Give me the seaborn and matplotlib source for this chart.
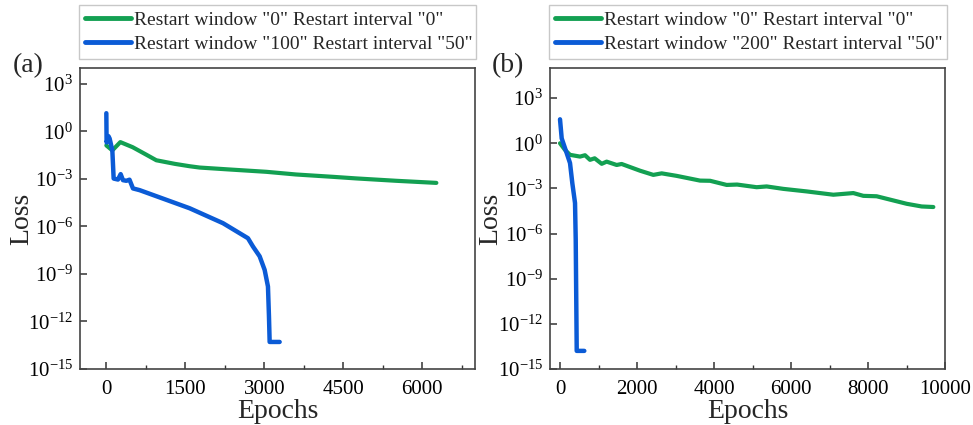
import matplotlib
matplotlib.use("Agg")
import matplotlib.pyplot as plt
import seaborn as sns
import pandas as pd
from matplotlib.ticker import FixedLocator, LogFormatterMathtext, MultipleLocator, NullLocator

# ---------------- data ----------------
a_green_epochs = [0, 114, 266, 500, 750, 949, 1300, 1582, 1772, 2300, 3038, 3600, 4302, 4747, 5500, 6266]
a_green_loss = [1.3e-1, 6.3e-2, 2.1e-1, 1.0e-1, 3.5e-2, 1.5e-2, 8.9e-3, 6.3e-3, 5.2e-3, 4.0e-3,
                2.8e-3, 1.9e-3, 1.35e-3, 1.07e-3, 7.6e-4, 5.6e-4]

a_blue_epochs = [0, 5, 40, 63, 114, 139, 221, 272, 316, 380, 440, 506, 632, 949, 1582, 2215,
                 2689, 2784, 2911, 3006, 3069, 3088, 3101, 3291]
a_blue_loss = [1.4e1, 2.0e-1, 5.0e-1, 3.5e-1, 6.3e-2, 1.05e-3, 9.1e-4, 2.0e-3, 8.3e-4, 7.6e-4,
               8.9e-4, 2.5e-4, 1.95e-4, 8.1e-5, 1.4e-5, 1.6e-6, 1.8e-7, 5.4e-8, 1.3e-8,
               1.8e-9, 1.6e-10, 2.1e-12, 5.1e-14, 5.1e-14]

b_green_epochs = [0, 130, 260, 520, 650, 779, 900, 1083, 1212, 1472, 1600, 2078, 2424, 2641, 3030,
                  3636, 3900, 4329, 4600, 5108, 5368, 5801, 6407, 7100, 7619, 7879, 8225, 8571,
                  9004, 9394, 9697]
b_green_loss = [1.0, 3.6e-1, 1.7e-1, 1.3e-1, 1.6e-1, 7.9e-2, 1.0e-1, 4.3e-2, 6.0e-2, 3.6e-2,
                4.2e-2, 1.5e-2, 7.9e-3, 1.0e-2, 6.8e-3, 3.3e-3, 3.2e-3, 1.7e-3, 1.8e-3, 1.2e-3,
                1.35e-3, 9.3e-4, 6.3e-4, 3.8e-4, 4.9e-4, 3.2e-4, 3.0e-4, 1.8e-4, 9.5e-5,
                6.3e-5, 5.8e-5]

b_blue_epochs = [0, 44, 174, 260, 320, 390, 408, 434, 631]
b_blue_loss = [3.9e1, 2.1, 2.2e-1, 4.8e-2, 2.2e-3, 1.07e-4, 4.0e-7, 1.6e-14, 1.6e-14]

labels_a = ['Restart window "0" Restart interval "0"', 'Restart window "100" Restart interval "50"']
labels_b = ['Restart window "0" Restart interval "0"', 'Restart window "200" Restart interval "50"']
yticks = [1e3, 1e0, 1e-3, 1e-6, 1e-9, 1e-12, 1e-15]

GREEN = "#13a052"
BLUE = "#0b5bd6"

# ---------------- style ----------------
sns.set_theme(style="ticks")
plt.rcParams["font.family"] = ["Liberation Serif", "DejaVu Serif"]
plt.rcParams["mathtext.fontset"] = "custom"
plt.rcParams["mathtext.rm"] = "Liberation Serif"
plt.rcParams["mathtext.it"] = "Liberation Serif:italic"
plt.rcParams["mathtext.bf"] = "Liberation Serif:bold"

fig = plt.figure(figsize=(9.73, 4.25), dpi=100)
W, H = 973, 425
ax_a = fig.add_axes([80 / W, 1 - 369 / H, 395 / W, 301 / H])
ax_b = fig.add_axes([550 / W, 1 - 369 / H, 395 / W, 301 / H])

panels = [
    (ax_a, a_green_epochs, a_green_loss, a_blue_epochs, a_blue_loss, labels_a,
     (-500, 7000), (1e-15, 1e4), 1500, 750, "(a)", 13, (79, 476), 34),
    (ax_b, b_green_epochs, b_green_loss, b_blue_epochs, b_blue_loss, labels_b,
     (-260, 10000), (1e-15, 1e5), 2000, 1000, "(b)", 492, (549, 947), 503),
]

for (ax, gx, gy, bx, by, labs, xlim, ylim, major, minor, tag, tagx, legx, ylabx) in panels:
    dg = pd.DataFrame({"Epochs": gx, "Loss": gy})
    db = pd.DataFrame({"Epochs": bx, "Loss": by})
    sns.lineplot(data=dg, x="Epochs", y="Loss", ax=ax, color=GREEN, lw=3.0,
                 estimator=None, sort=False, label=labs[0], solid_capstyle="round")
    sns.lineplot(data=db, x="Epochs", y="Loss", ax=ax, color=BLUE, lw=3.2,
                 estimator=None, sort=False, label=labs[1], solid_capstyle="round")
    ax.set_yscale("log")
    ax.set_xlim(*xlim)
    ax.set_ylim(*ylim)
    ax.yaxis.set_major_locator(FixedLocator(yticks))
    ax.yaxis.set_major_formatter(LogFormatterMathtext())
    ax.yaxis.set_minor_locator(NullLocator())
    ax.xaxis.set_major_locator(MultipleLocator(major))
    ax.xaxis.set_minor_locator(MultipleLocator(minor))
    ax.tick_params(axis="both", which="major", direction="in", length=5, width=1.1,
                   labelsize=15, color="#333333", labelcolor="black", pad=5)
    ax.tick_params(axis="x", which="major", pad=8)
    ax.tick_params(axis="x", which="minor", direction="in", length=3, width=1.0, color="#333333")
    ax.tick_params(top=False, right=False)
    for s in ax.spines.values():
        s.set_visible(True)
        s.set_color("#444444")
        s.set_linewidth(1.2)
    ax.set_xlabel("Epochs", fontsize=20, labelpad=0)
    ax.set_ylabel("Loss", fontsize=20)
    ax.yaxis.set_label_coords(ylabx / W, 0.5 * (1 - 369 / H + 1 - 68 / H) + 0.0,
                              transform=fig.transFigure)
    x0 = legx[0] / W
    wl = (legx[1] - legx[0]) / W
    leg = ax.legend(loc="lower left", bbox_to_anchor=(x0, 1 - 59 / H, wl, 52 / H),
                    bbox_transform=fig.transFigure, mode="expand", fontsize=14,
                    frameon=True, fancybox=False, borderpad=0.3, handlelength=2.35,
                    handletextpad=0.2, labelspacing=0.35, borderaxespad=0)
    leg.get_frame().set_edgecolor("#bbbbbb")
    leg.get_frame().set_linewidth(1.0)
    for ln in leg.get_lines():
        ln.set_linewidth(3.5)
    fig.text(tagx / W, 1 - 66 / H, tag, fontsize=20, ha="left", va="center")

fig.savefig("out.png", dpi=100)
